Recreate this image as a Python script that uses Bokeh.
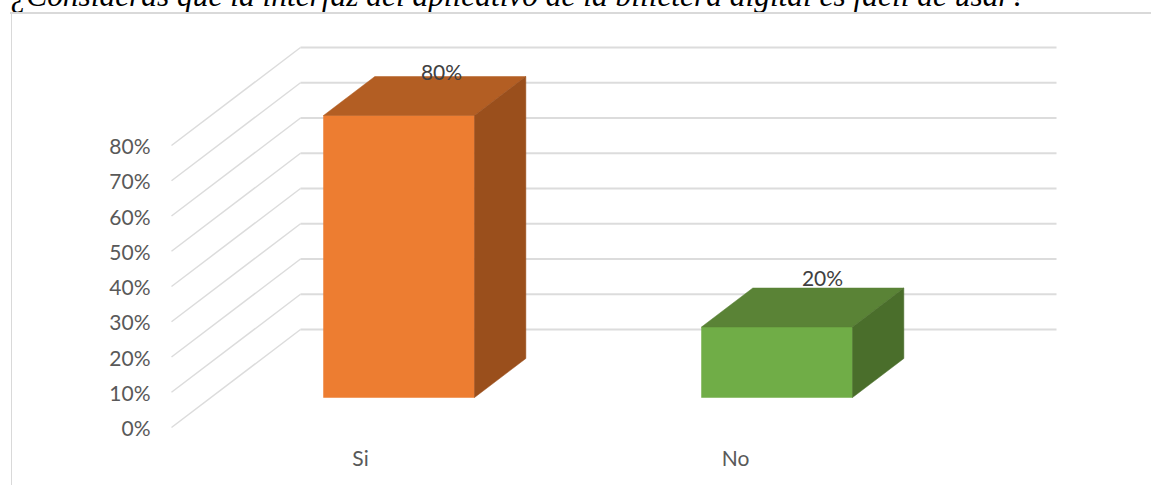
from bokeh.plotting import figure
from bokeh.models import Range1d, LinearAxis, FixedTicker, InlineStyleSheet
from bokeh.embed import file_html
from bokeh.resources import INLINE
from bokeh.core.properties import value

title_text = "¿Consideras que la interfaz del aplicativo de la billetera digital es fácil de usar?"
categories = ["Si", "No"]
values = [80, 20]
labels = ["80%", "20%"]
y_ticks = [0, 10, 20, 30, 40, 50, 60, 70, 80]

front_colors = ["#ED7D31", "#70AD47"]
top_colors = ["#B35E23", "#5A8336"]
side_colors = ["#9A4F1C", "#4A6E2B"]

W, H = 1151, 485
FL, FT, FB = 165, 40, 442
PX = 3.525          # pixels per percent
Y0 = 427            # pixel row of 0 % on the front edge of the floor
SLOT = 378          # pixels per category
X0 = 323            # pixel column of first bar front-left
BAR_W = 151 / SLOT
WALL_DX, WALL_DY = 129 / SLOT, 98 / PX
WALL_X0 = (171 - X0) / SLOT
WALL_X1 = (1056 - X0) / SLOT
Z0, Z1 = 0.306, 0.704

def px_y(py):
    return (Y0 - py) / PX
def px_x(px):
    return (px - X0) / SLOT

border_css = InlineStyleSheet(css="""
:host::before{content:"";position:absolute;left:10px;top:12px;right:0;height:1.5px;background:#d9d9d9;z-index:5}
:host::after{content:"";position:absolute;left:10.5px;top:12px;bottom:0;width:1.5px;background:#d9d9d9;z-index:5}
""")

p = figure(width=W, height=H, output_backend="svg", toolbar_location=None,
           x_range=Range1d(px_x(FL), px_x(W)), y_range=Range1d(px_y(FB), px_y(FT)),
           x_axis_location=None, y_axis_location=None,
           min_border_left=FL, min_border_right=0, min_border_top=FT, min_border_bottom=H - FB,
           margin=(0, 0, 0, 0), outline_line_color=None, background_fill_color="white",
           stylesheets=[border_css],
           title=title_text)
p.title.text_font = "Liberation Serif"
p.title.text_font_style = "italic"
p.title.text_font_size = "31.4px"
p.title.text_color = "black"
p.title.vertical_align = "top"
p.title.standoff = -126
p.title.offset = -155
p.title.align = "left"
p.xgrid.visible = False
p.ygrid.visible = False

# walls
wall_xs, wall_ys, back_xs, back_ys = [], [], [], []
for t in y_ticks:
    wall_xs.append([WALL_X0, WALL_X0 + WALL_DX])
    wall_ys.append([t, t + WALL_DY])
    back_xs.append([WALL_X0 + WALL_DX, WALL_X1])
    back_ys.append([t + WALL_DY, t + WALL_DY])
p.multi_line(wall_xs, wall_ys, line_color="#dcdcdc", line_width=1.5)
p.multi_line(back_xs, back_ys, line_color="#dcdcdc", line_width=2)

def oblique(x, v, z):
    return x + z * WALL_DX, v + z * WALL_DY

base = oblique(0, 0, Z0)[1]
dx = (Z1 - Z0) * WALL_DX
dy = (Z1 - Z0) * WALL_DY
for i, v in enumerate(values):
    x0 = i
    x1 = i + BAR_W
    top = base + v
    p.patch([x0, x1, x1, x0], [base, base, top, top], fill_color=front_colors[i], line_color=front_colors[i], line_width=0.5)
    p.patch([x0, x1, x1 + dx, x0 + dx], [top, top, top + dy, top + dy], fill_color=top_colors[i], line_color=top_colors[i], line_width=0.5)
    p.patch([x1, x1 + dx, x1 + dx, x1], [base, base + dy, top + dy, top], fill_color=side_colors[i], line_color=side_colors[i], line_width=0.5)

# data labels
lab_x = [px_x(441), px_x(822)]
lab_y = [px_y(71), px_y(277)]
p.text(lab_x, lab_y, text=labels, text_align="center", text_baseline="middle",
       text_font=value("Lato"), text_font_size="21px", text_color="#404040")

yaxis = LinearAxis(ticker=FixedTicker(ticks=y_ticks),
                   major_label_overrides={t: f"{t}%" for t in y_ticks},
                   axis_line_color=None, major_tick_line_color=None, minor_tick_line_color=None,
                   major_tick_out=0, major_tick_in=0,
                   major_label_text_font="Lato", major_label_text_font_size="21px",
                   major_label_text_color="#595959", major_label_standoff=15)
p.add_layout(yaxis, "left")

x_ticks = [px_x(360), px_x(735)]
xaxis = LinearAxis(ticker=FixedTicker(ticks=x_ticks),
                   major_label_overrides={x_ticks[i]: categories[i] for i in range(2)},
                   axis_line_color=None, major_tick_line_color=None, minor_tick_line_color=None,
                   major_tick_out=0, major_tick_in=0,
                   major_label_text_font="Lato", major_label_text_font_size="21px",
                   major_label_text_color="#595959", major_label_standoff=2)
p.add_layout(xaxis, "below")

open("out.html", "w").write(file_html(p, INLINE))
